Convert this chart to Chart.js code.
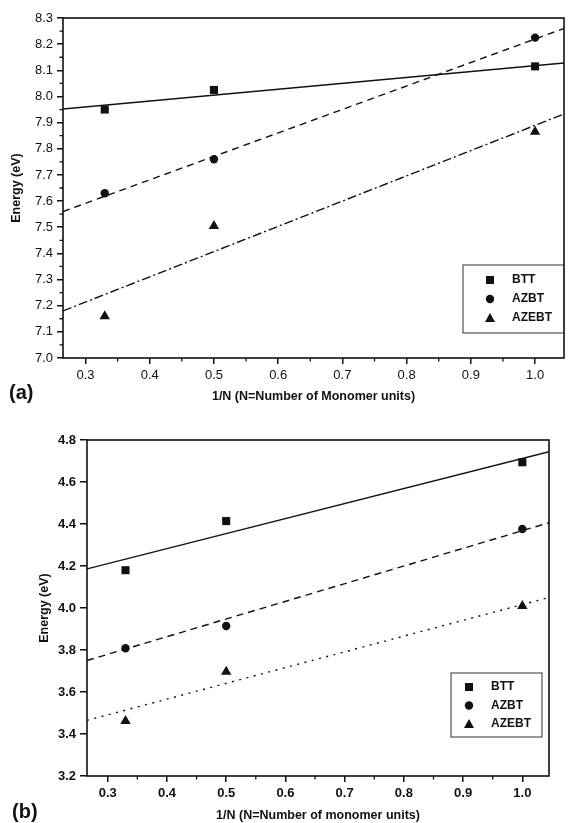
<!DOCTYPE html>
<html>
<head>
<meta charset="utf-8">
<script src="https://cdn.jsdelivr.net/npm/chart.js@4.4.1/dist/chart.umd.min.js"></script>
<style>
  html, body { margin: 0; padding: 0; background: #fff; }
  .panel { position: absolute; left: 0; width: 570px; }
  #boxA { top: 0; height: 410px; }
  #boxB { top: 410px; height: 413px; }
</style>
</head>
<body>
<div class="panel" id="boxA"><canvas id="chartA"></canvas></div>
<div class="panel" id="boxB"><canvas id="chartB"></canvas></div>
<script>
// 1/N values for the three chain lengths
const invN = [0.33, 0.5, 1.0];
const seriesNames = ['BTT', 'AZBT', 'AZEBT'];

// panel (a)
const a_btt = [7.95, 8.025, 8.115];
const a_azbt = [7.63, 7.76, 8.225];
const a_azebt = [7.16, 7.505, 7.865];
// fitted lines, read at the two ends of the x axis
const fitX = [0.265, 1.045];
const a_fitBtt = [7.952, 8.128];
const a_fitAzbt = [7.56, 8.26];
const a_fitAzebt = [7.18, 7.933];

// panel (b)
const b_btt = [4.18, 4.414, 4.694];
const b_azbt = [3.808, 3.914, 4.376];
const b_azebt = [3.462, 3.697, 4.01];
const b_fitBtt = [4.186, 4.744];
const b_fitAzbt = [3.75, 4.406];
const b_fitAzebt = [3.465, 4.05];

const FONT = '"Liberation Sans", Arial, sans-serif';
const INK = '#111';

function pts(xs, ys) {
  return xs.map((x, i) => ({ x: x, y: ys[i] }));
}

function pointSet(label, ys, style, r) {
  return {
    type: 'line', label: label, data: pts(invN, ys), showLine: false,
    pointStyle: style, pointRadius: r, pointHoverRadius: r,
    backgroundColor: INK, borderColor: INK, pointBorderWidth: 0
  };
}

function fitSet(ys, dash) {
  return {
    type: 'line', label: '_fit', data: pts(fitX, ys), pointRadius: 0,
    borderColor: INK, borderWidth: 1.4, borderDash: dash, fill: false
  };
}

function drawMarker(ctx, style, x, y) {
  ctx.beginPath();
  if (style === 'rect') {
    ctx.rect(x - 4, y - 4, 8, 8);
  } else if (style === 'circle') {
    ctx.arc(x, y, 4.2, 0, Math.PI * 2);
  } else {
    ctx.moveTo(x, y - 5);
    ctx.lineTo(x + 5, y + 4);
    ctx.lineTo(x - 5, y + 4);
    ctx.closePath();
  }
  ctx.fill();
}

const decor = {
  id: 'decor',
  afterDraw(chart, args, opts) {
    const ctx = chart.ctx;
    const a = chart.chartArea;
    const xs = chart.scales.x, ys = chart.scales.y;
    ctx.save();
    ctx.strokeStyle = INK;
    ctx.fillStyle = INK;
    ctx.lineWidth = 1.6;
    ctx.strokeRect(a.left, a.top, a.right - a.left, a.bottom - a.top);

    // minor ticks
    ctx.lineWidth = 1.3;
    ctx.beginPath();
    for (let v = Math.ceil(xs.min * 20) / 20; v <= xs.max + 1e-9; v += 0.05) {
      if (Math.round(v * 100) % 10 === 0) continue;
      const px = xs.getPixelForValue(v);
      ctx.moveTo(px, a.bottom);
      ctx.lineTo(px, a.bottom + 3.5);
    }
    if (opts.yMinor) {
      for (let v = Math.ceil(ys.min / opts.yMinor) * opts.yMinor; v <= ys.max + 1e-9; v += opts.yMinor) {
        if (Math.abs(Math.round(v * 10) - v * 10) < 1e-6) continue;
        const py = ys.getPixelForValue(v);
        ctx.moveTo(a.left, py);
        ctx.lineTo(a.left - 3.5, py);
      }
    }
    ctx.stroke();

    // legend box
    const L = opts.legend;
    ctx.lineWidth = 1;
    ctx.strokeStyle = '#333';
    ctx.strokeRect(L.x, L.y, L.w, L.h);
    ctx.font = 'bold 12px ' + FONT;
    ctx.textBaseline = 'middle';
    ctx.textAlign = 'left';
    const sets = chart.data.datasets.filter(d => d.label !== '_fit');
    sets.forEach((d, i) => {
      const ry = L.y + L.rowTop + i * L.rowGap;
      drawMarker(ctx, d.pointStyle, L.x + L.markX, ry);
      ctx.fillText(d.label, L.x + L.textX, ry);
    });

    // panel letter
    ctx.font = 'bold 20px ' + FONT;
    ctx.textBaseline = 'middle';
    ctx.fillText(opts.letter, opts.letterX, opts.letterY);
    ctx.restore();
  }
};

function makeChart(id, cfg) {
  const tickFont = { family: FONT, size: 13, weight: cfg.tickWeight };
  const titleFont = { family: FONT, size: 12.5, weight: 'bold' };
  return new Chart(document.getElementById(id), {
    data: {
      datasets: [
        pointSet(seriesNames[0], cfg.btt, 'rect', 5.7),
        pointSet(seriesNames[1], cfg.azbt, 'circle', 4.2),
        pointSet(seriesNames[2], cfg.azebt, 'triangle', 6),
        fitSet(cfg.fitBtt, []),
        fitSet(cfg.fitAzbt, [7, 5]),
        fitSet(cfg.fitAzebt, cfg.lastDash)
      ]
    },
    options: {
      responsive: true,
      maintainAspectRatio: false,
      animation: false,
      events: [],
      layout: { padding: cfg.padding },
      plugins: {
        legend: { display: false },
        tooltip: { enabled: false },
        decor: cfg.decor
      },
      scales: {
        x: {
          type: 'linear', min: fitX[0], max: fitX[1],
          afterFit: s => { s.height = cfg.xHeight; },
          border: { display: false },
          grid: { drawOnChartArea: false, drawTicks: true, tickLength: 6, color: INK, lineWidth: 1.5 },
          ticks: { stepSize: 0.1, includeBounds: false, padding: 4, color: INK, font: tickFont, maxRotation: 0,
                   callback: v => v.toFixed(1) },
          title: { display: true, text: cfg.xTitle, color: INK, font: titleFont, padding: { top: 0, bottom: cfg.xTitlePad } }
        },
        y: {
          type: 'linear', min: cfg.yMin, max: cfg.yMax,
          afterFit: s => { s.width = cfg.yWidth; },
          border: { display: false },
          grid: { drawOnChartArea: false, drawTicks: true, tickLength: cfg.yTick, color: INK, lineWidth: 1.5 },
          ticks: { stepSize: cfg.yStep, includeBounds: false, padding: 4, color: INK, font: tickFont,
                   callback: v => v.toFixed(1) },
          title: { display: true, text: 'Energy (eV)', color: INK, font: titleFont, padding: { top: cfg.yTitlePad, bottom: 0 } }
        }
      }
    },
    plugins: [decor]
  });
}

makeChart('chartA', {
  btt: a_btt, azbt: a_azbt, azebt: a_azebt,
  fitBtt: a_fitBtt, fitAzbt: a_fitAzbt, fitAzebt: a_fitAzebt,
  lastDash: [9, 3, 2, 3],
  yMin: 7.0, yMax: 8.3, yStep: 0.1, yTick: 6,
  tickWeight: 'normal',
  padding: { left: 0, right: 2, top: 18, bottom: 0 },
  xHeight: 52, yWidth: 63, xTitlePad: 6, yTitlePad: 9,
  xTitle: '1/N (N=Number of Monomer units)',
  decor: {
    yMinor: 0.05, letter: '(a)', letterX: 9, letterY: 393,
    legend: { x: 463, y: 265, w: 101, h: 68, markX: 27, textX: 49, rowTop: 15, rowGap: 19 }
  }
});

makeChart('chartB', {
  btt: b_btt, azbt: b_azbt, azebt: b_azebt,
  fitBtt: b_fitBtt, fitAzbt: b_fitAzbt, fitAzebt: b_fitAzebt,
  lastDash: [2, 5.5],
  yMin: 3.2, yMax: 4.8, yStep: 0.2, yTick: 7,
  tickWeight: 'bold',
  padding: { left: 0, right: 21, top: 30, bottom: 0 },
  xHeight: 47, yWidth: 87, xTitlePad: 0, yTitlePad: 37,
  xTitle: '1/N (N=Number of monomer units)',
  decor: {
    yMinor: 0, letter: '(b)', letterX: 12, letterY: 402,
    legend: { x: 451, y: 263, w: 91, h: 64, markX: 18, textX: 40, rowTop: 14, rowGap: 18.5 }
  }
});
</script>
</body>
</html>
